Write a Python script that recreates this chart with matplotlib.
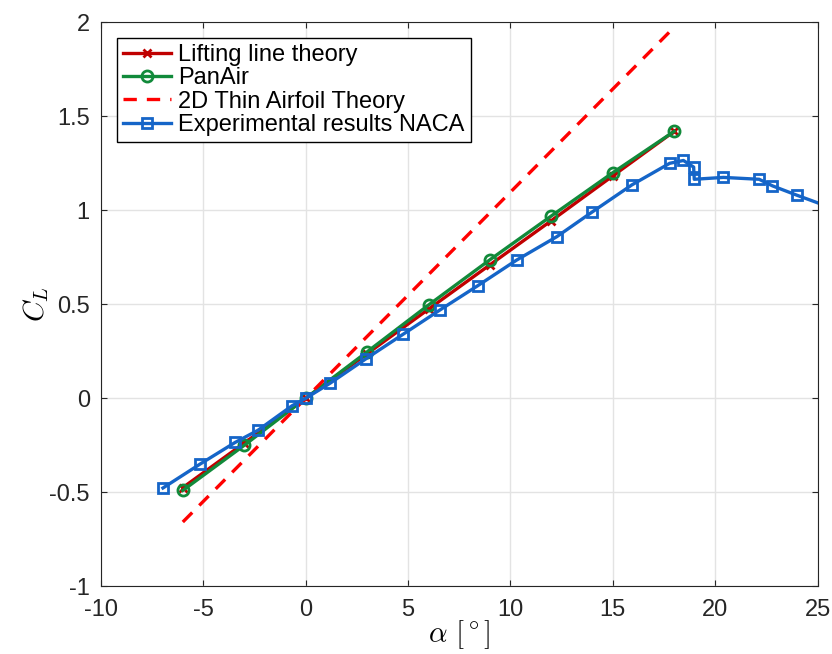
"""Lift coefficient vs angle of attack: theory vs experiment"""
import numpy as np
import matplotlib
matplotlib.use("Agg")
import matplotlib.pyplot as plt

plt.rcParams['font.family'] = ['Liberation Sans', 'DejaVu Sans']
plt.rcParams['mathtext.fontset'] = 'cm'
plt.rcParams['axes.unicode_minus'] = False

# data
alpha_llt = [-6, -3, 0, 3, 6, 9, 12, 15, 18]
cl_llt = [-0.475, -0.238, 0.0, 0.237, 0.474, 0.71, 0.945, 1.183, 1.42]

alpha_pan = [-6, -3, 0, 3, 6, 9, 12, 15, 18]
cl_pan = [-0.49, -0.25, 0.0, 0.247, 0.496, 0.737, 0.97, 1.2, 1.42]

alpha_thin = [-6, 18]

alpha_exp = [-6.97, -5.16, -3.45, -2.33, -0.67, 0.0, 1.19, 2.94, 4.75, 6.56,
             8.42, 10.3, 12.27, 13.98, 15.93, 17.78, 18.45, 18.95, 18.98,
             20.4, 22.15, 22.8, 24.0, 26.0]
cl_exp = [-0.477, -0.35, -0.235, -0.17, -0.04, 0.0, 0.08, 0.21, 0.34, 0.47,
          0.60, 0.735, 0.86, 0.99, 1.135, 1.25, 1.265, 1.23, 1.165,
          1.175, 1.165, 1.13, 1.08, 1.0]

fig = plt.figure(figsize=(8.32, 6.54), dpi=100)
ax = fig.add_axes([0.1213, 0.1035, 0.8613, 0.8624])

ax.plot(alpha_llt, cl_llt, color='#c00000', lw=2.4, marker='x', ms=6, mew=2,
        label='Lifting line theory')
ax.plot(alpha_pan, cl_pan, color='#118a3a', lw=2.4, marker='o', ms=8,
        mfc='none', mew=2, label='PanAir')
a = np.array(alpha_thin, dtype=float)
ax.plot(a, 2 * np.pi * np.radians(a), color='#ff0000', lw=2.4, ls=(0, (4, 3)),
        label='2D Thin Airfoil Theory')
ax.plot(alpha_exp, cl_exp, color='#1565c8', lw=2.4, marker='s', ms=6.5,
        mfc='none', mew=2, label='Experimental results NACA')

ax.set_xlim(-10, 25)
ax.set_ylim(-1, 2)
ax.set_xticks(np.arange(-10, 26, 5))
ax.set_yticks(np.arange(-1, 2.01, 0.5))
ax.set_yticklabels(['-1', '-0.5', '0', '0.5', '1', '1.5', '2'])
ax.grid(True, color='#e3e3e3', lw=1)
ax.set_axisbelow(True)
ax.tick_params(direction='in', top=True, right=True, labelsize=17,
               length=4, color='#262626', labelcolor='#262626')
ax.tick_params(axis='x', pad=9)
ax.tick_params(axis='y', pad=8)
for s in ax.spines.values():
    s.set_color('#262626')
    s.set_linewidth(0.8)

ax.set_xlabel(r'$\alpha\ [^\circ]$', fontsize=21, labelpad=-2)
ax.set_ylabel(r'$C_L$', fontsize=21, labelpad=-1)

leg = ax.legend(loc='upper left', fontsize=17, fancybox=False,
                edgecolor='black', framealpha=1, handlelength=2.05,
                handletextpad=0.3, labelspacing=0.05, borderpad=0.25,
                borderaxespad=0.68)
leg.get_frame().set_linewidth(1.0)

fig.savefig('out.png', dpi=100)
